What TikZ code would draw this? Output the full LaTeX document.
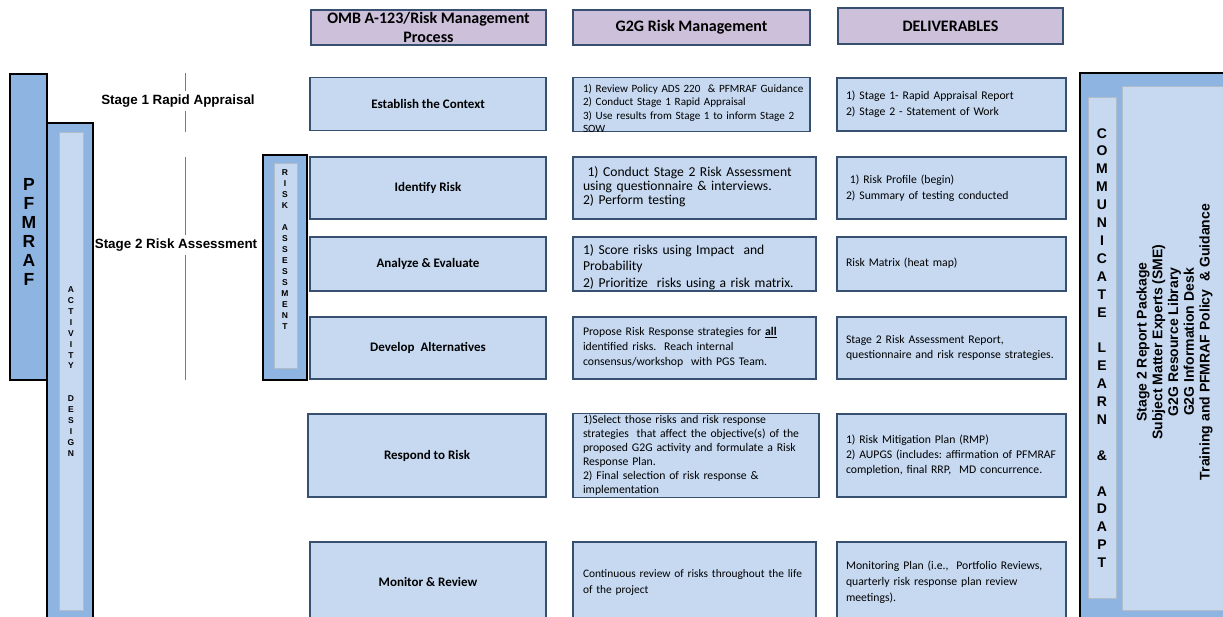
\documentclass[tikz,border=0pt]{standalone}
\usepackage{fontspec}
\setmainfont{Carlito}
\newfontfamily\arialfont{Liberation Sans}
\usetikzlibrary{positioning}
\definecolor{lavender}{RGB}{204,192,218}
\definecolor{paleblue}{RGB}{198,217,241}
\definecolor{midblue}{RGB}{142,180,226}
\definecolor{boxline}{RGB}{56,80,112}
\definecolor{stripline}{RGB}{178,188,200}
\definecolor{stageline}{RGB}{79,129,189}
\tikzset{hdr/.style={draw=boxline,line width=1.6pt,fill=lavender,inner sep=0pt,align=center,font=\bfseries\fontsize{16}{19}\selectfont}}
\tikzset{proc/.style={draw=boxline,line width=1.6pt,fill=paleblue,inner sep=0pt,align=center,font=\bfseries\fontsize{13}{15}\selectfont}}
\tikzset{info/.style={draw=boxline,line width=1.6pt,fill=paleblue,inner xsep=10pt,inner ysep=0pt,align=left,font=\fontsize{11.7}{15}\selectfont}}
\tikzset{bar/.style={draw=black,line width=1.4pt,fill=midblue,inner sep=0pt}}
\tikzset{strip/.style={draw=stripline,line width=0.9pt,fill=paleblue,inner sep=0pt}}
\tikzset{vletters/.style={align=center,inner sep=0pt}}
\tikzset{stagelbl/.style={font=\arialfont\bfseries\fontsize{13.4}{15}\selectfont}}
\tikzset{stagerule/.style={stageline,line width=0.7pt}}
% lines of a box, kept unbroken; optional drop
\newcommand{\boxlines}[2][0pt]{\raisebox{-#1}[\height][\depth]{\begin{tabular}{@{}l@{}}#2\end{tabular}}}

\begin{document}
\frenchspacing
\begin{tikzpicture}[x=1pt,y=-1pt]
  \useasboundingbox (0,0) rectangle (1223,617);
  % column headers
  \node[hdr,minimum width=235pt,minimum height=35pt] (omb) at (428.5,27.5) {OMB A-123/Risk Management\\Process};
  \node[hdr,minimum width=237pt,minimum height=35pt] (g2g) at (691.5,27.5) {G2G Risk Management};
  \node[hdr,minimum width=225pt,minimum height=36pt] (deliv) at (950.5,26) {DELIVERABLES};
  % process steps
  \node[proc,minimum width=236pt,minimum height=53pt] (context) at (428,104) {Establish the Context};
  \node[proc,minimum width=236pt,minimum height=62pt] (identify) at (428,188) {Identify Risk};
  \node[proc,minimum width=236pt,minimum height=54pt] (analyze) at (428,264) {Analyze \& Evaluate};
  \node[proc,minimum width=236pt,minimum height=62pt] (develop) at (428,348) {Develop~ Alternatives};
  \node[proc,minimum width=238pt,minimum height=83pt] (respond) at (427,455.5) {Respond to Risk};
  \node[proc,minimum width=236pt,minimum height=80pt] (monitor) at (428,582) {Monitor \& Review};
  % G2G risk management
  \node[info,text width=217pt,minimum height=53pt,font=\fontsize{11.1}{13.5}\selectfont] (g2gctx) at (691.5,104.5)
    {\boxlines[5.5pt]{1) Review Policy ADS 220~ \& PFMRAF Guidance\\2) Conduct Stage 1 Rapid Appraisal\\3) Use results from Stage 1 to inform Stage 2\\SOW}};
  \node[info,text width=223pt,minimum height=62pt,font=\fontsize{13.6}{14}\selectfont] (g2gid) at (694.5,188)
    {\boxlines{~1) Conduct Stage 2 Risk Assessment\\using questionnaire \& interviews.\\2) Perform testing}};
  \node[info,text width=223pt,minimum height=54pt,font=\fontsize{13.6}{16.5}\selectfont] (g2gan) at (694.5,264)
    {\boxlines[3.5pt]{1) Score risks using Impact~ and\\Probability\\2) Prioritize~ risks using a risk matrix.}};
  \node[info,text width=223pt,minimum height=62pt] (g2gdev) at (694.5,348)
    {\boxlines{Propose Risk Response strategies for \underline{\textbf{all}}\\identified risks.~ Reach internal\\consensus/workshop~ with PGS Team.}};
  \node[info,text width=226pt,minimum height=83pt,font=\fontsize{11.7}{14}\selectfont] (g2gresp) at (696,455.5)
    {\boxlines{1)Select those risks and risk response\\strategies~ that affect the objective(s) of the\\proposed G2G activity and formulate a Risk\\Response Plan.\\2) Final selection of risk response \&\\implementation}};
  \node[info,text width=223pt,minimum height=80pt,font=\fontsize{11.4}{16}\selectfont] (g2gmon) at (694.5,582)
    {\boxlines{Continuous review of risks throughout the life\\of the project}};
  % deliverables
  \node[info,inner xsep=9pt,text width=211pt,minimum height=53pt,font=\fontsize{11.7}{16}\selectfont] (delctx) at (951.5,104.5)
    {\boxlines{1) Stage 1- Rapid Appraisal Report\\2) Stage 2 - Statement of Work}};
  \node[info,inner xsep=9pt,text width=211pt,minimum height=62pt,font=\fontsize{11.7}{16}\selectfont] (delid) at (951.5,188)
    {\boxlines{~1) Risk Profile (begin)\\2) Summary of testing conducted}};
  \node[info,inner xsep=9pt,text width=211pt,minimum height=54pt] (delan) at (951.5,264)
    {\boxlines{Risk Matrix (heat map)}};
  \node[info,inner xsep=9pt,text width=211pt,minimum height=62pt] (deldev) at (951.5,348)
    {\boxlines{Stage 2 Risk Assessment Report,\\questionnaire and risk response strategies.}};
  \node[info,inner xsep=9pt,text width=211pt,minimum height=83pt] (delresp) at (951.5,455.5)
    {\boxlines{1) Risk Mitigation Plan (RMP)\\2) AUPGS (includes: affirmation of PFMRAF\\completion, final RRP,~ MD concurrence.}};
  \node[info,inner xsep=9pt,text width=211pt,minimum height=80pt,font=\fontsize{11.7}{16}\selectfont] (delmon) at (951.5,582)
    {\boxlines{Monitoring Plan (i.e.,~ Portfolio Reviews,\\quarterly risk response plan review\\meetings).}};
  % left bars
  \node[bar,minimum width=37pt,minimum height=306pt] (pfmrafbox) at (28.5,227) {};
  \node[bar,minimum width=46pt,minimum height=510pt] (actbox) at (70,378) {};
  \node[strip,minimum width=24pt,minimum height=478pt] (actstrip) at (71,371) {};
  \node[vletters,font=\arialfont\bfseries\fontsize{17.5}{19}\selectfont] (pfmraf) at (29,232) {P\\F\\M\\R\\A\\F};
  \node[vletters,font=\arialfont\bfseries\fontsize{8.5}{10.9}\selectfont] (activity) at (71,371.5)
    {A\\C\\T\\I\\V\\I\\T\\Y\\~\\~\\D\\E\\S\\I\\G\\N};
  \node[bar,minimum width=44pt,minimum height=225pt] (riskbox) at (285,267.5) {};
  \node[strip,minimum width=23pt,minimum height=205pt] (riskstrip) at (285.5,265.5) {};
  \node[vletters,font=\arialfont\bfseries\fontsize{8.5}{11}\selectfont] (riskassess) at (285,250)
    {R\\I\\S\\K\\~\\A\\S\\S\\E\\S\\S\\M\\E\\N\\T};
  % stages
  \node[stagelbl] (stage1) at (178,101) {Stage 1 Rapid Appraisal};
  \node[stagelbl] (stage2) at (176,245) {Stage 2 Risk Assessment};
  \coordinate (s1top) at (185,73);
  \coordinate (s1bot) at (185,132);
  \coordinate (s2top) at (185,157);
  \coordinate (s2bot) at (185,380);
  \draw[stagerule] (s1top) -- (s1top |- stage1.north);
  \draw[stagerule] (s1bot |- stage1.south) -- (s1bot);
  \draw[stagerule] (s2top) -- (s2top |- stage2.north);
  \draw[stagerule] (s2bot |- stage2.south) -- (s2bot);
  % right panel
  \node[bar,minimum width=155pt,minimum height=560pt] (clabox) at (1157.5,353) {};
  \node[strip,minimum width=28pt,minimum height=501pt] (clastrip) at (1102,347.5) {};
  \node[strip,minimum width=113pt,minimum height=524pt] (resbox) at (1178.5,348) {};
  \node[vletters,font=\arialfont\bfseries\fontsize{14}{17.9}\selectfont] (cla) at (1102,348)
    {C\\O\\M\\M\\U\\N\\I\\C\\A\\T\\E\\~\\L\\E\\A\\R\\N\\~\\\&\\~\\A\\D\\A\\P\\T};
  \node[rotate=90,align=center,font=\arialfont\bfseries\fontsize{14}{15.7}\selectfont] (resources) at (1174.5,342)
    {Stage 2 Report Package\\Subject Matter Experts (SME)\\G2G Resource Library\\G2G Information Desk\\Training and PFMRAF Policy~ \& Guidance};
\end{tikzpicture}
\end{document}
